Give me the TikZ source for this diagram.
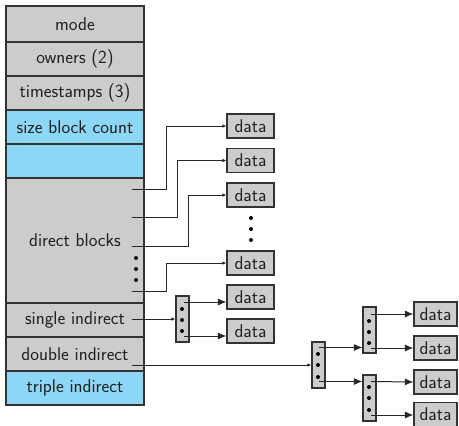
\documentclass[tikz,border=0pt]{standalone}
\usetikzlibrary{arrows.meta}
\definecolor{cellgray}{RGB}{204,204,204}
\definecolor{cellblue}{RGB}{140,214,246}
\definecolor{edge}{RGB}{51,51,51}
\begin{document}
\begin{tikzpicture}[x=1pt,y=-1pt,
  font=\sffamily\fontsize{18.5}{22}\selectfont,
  every node/.style={text=black!88},
  cell/.style={draw=edge,line width=1.1pt,minimum width=138pt,inner sep=0pt,anchor=center},
  grayc/.style={cell,fill=cellgray},
  bluec/.style={cell,fill=cellblue},
  datab/.style={draw=edge,fill=cellgray,line width=1.1pt,minimum width=47pt,minimum height=24pt,inner sep=0pt},
  datasm/.style={datab,minimum width=43pt},
  ptr/.style={draw=edge,fill=cellgray,line width=1.1pt,minimum width=13pt,minimum height=46pt,inner sep=0pt},
  dotm/.style={circle,fill=black,inner sep=0pt,minimum size=4pt},
  link/.style={draw=black!85,line width=1pt,-{Latex[length=4pt,width=3.5pt]}},
  bigl/.style={draw=black!85,line width=1pt,-{Latex[length=8.5pt,width=7pt]}}]
\useasboundingbox (0,0) rectangle (459,426);

% inode column
\node[grayc,minimum height=36pt] (mode) at (75,24) {mode};
\node[grayc,minimum height=34pt] (own) at (75,59) {owners (2)};
\node[grayc,minimum height=34pt] (ts) at (75,93) {timestamps (3)};
\node[bluec,minimum height=34pt] (size) at (75,127) {size block count};
\node[bluec,minimum height=34pt] (blank) at (75,161) {};
\node[grayc,minimum height=125pt] (direct) at (75,240.5) {direct blocks};
\node[grayc,minimum height=34pt] (single) at (75,320) {single indirect};
\node[grayc,minimum height=34pt] (double) at (75,354) {double indirect};
\node[bluec,minimum height=34pt] (triple) at (75,388) {triple indirect};

% dots inside the direct block field
\node[dotm] (cd1) at (136,258) {};
\node[dotm] (cd2) at (136,269) {};
\node[dotm] (cd3) at (136,280) {};

% direct data blocks
\node[datab] (data1) at (250.5,126) {data};
\node[datab] (data2) at (250.5,160.5) {data};
\node[datab] (data3) at (250.5,195) {data};
\node[dotm] (vd1) at (251,218) {};
\node[dotm] (vd2) at (251,229) {};
\node[dotm] (vd3) at (251,240) {};
\node[datab] (data4) at (250.5,263) {data};

% single indirect block and its data
\node[ptr] (ps) at (182.5,319) {};
\node[dotm] at (182,309) {};
\node[dotm] at (182,320) {};
\node[dotm] at (182,331) {};
\node[datab] (sdata1) at (250.5,297) {data};
\node[datab] (sdata2) at (250.5,331) {data};

% double indirect blocks
\node[ptr] (pa) at (318.5,365) {};
\node[dotm] at (318,354) {};
\node[dotm] at (318,365) {};
\node[dotm] at (318,377) {};
\node[ptr] (pb) at (369.5,330) {};
\node[dotm] at (369,321) {};
\node[dotm] at (369,332) {};
\node[dotm] at (369,343) {};
\node[ptr] (pc) at (369.5,398) {};
\node[dotm] at (369,387) {};
\node[dotm] at (369,398) {};
\node[dotm] at (369,410) {};
\node[datasm] (ddata1) at (435.5,314) {data};
\node[datasm] (ddata2) at (435.5,348) {data};
\node[datasm] (ddata3) at (435.5,382) {data};
\node[datasm] (ddata4) at (435.5,414.5) {data};

% pointer origins
\coordinate (d1) at (132,189);
\coordinate (d2) at (132,217);
\coordinate (d3) at (132,246);
\coordinate (d4) at (132,291);
\coordinate (s0) at (132,319);
\coordinate (s1) at (184,302);
\coordinate (s2) at (184,336);
\coordinate (dd) at (132,365);
\coordinate (a1) at (319,347.5);
\coordinate (a2) at (319,381.5);
\coordinate (b1) at (371,314);
\coordinate (b2) at (371,348);
\coordinate (c1) at (371,381.5);
\coordinate (c2) at (371,415);

% direct pointers
\draw[link] (d1) -- ++(34,0) |- (data1.west);
\draw[link] (d2) -- ++(45,0) |- (data2.west);
\draw[link] (d3) -- ++(56,0) |- (data3.west);
\draw[link] (d4) -- ++(34,0) |- (data4.west);

% single indirect
\draw[link] (s0) -- (ps.west);
\draw[bigl] (s1) -- (s1 -| sdata1.west);
\draw[bigl] (s2) -- (s2 -| sdata2.west);

% double indirect
\draw[link] (dd) -- (dd -| pa.west);
\draw[bigl] (a1) -- (a1 -| pb.west);
\draw[bigl] (a2) -- (a2 -| pc.west);
\draw[bigl] (b1) -- (ddata1.west);
\draw[bigl] (b2) -- (ddata2.west);
\draw[bigl] (c1) -- (ddata3.west);
\draw[bigl] (c2) -- (c2 -| ddata4.west);
\end{tikzpicture}
\end{document}
